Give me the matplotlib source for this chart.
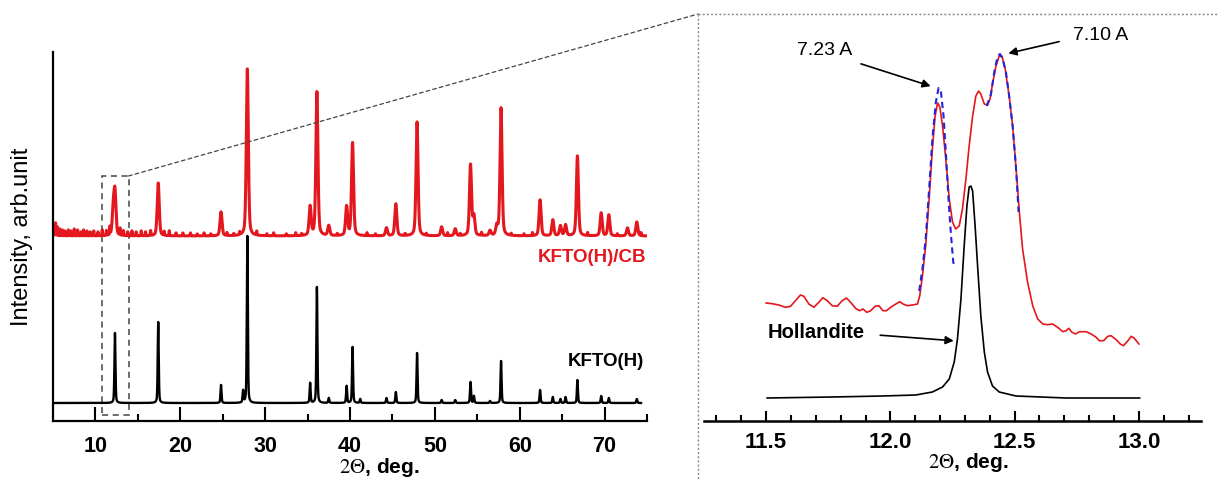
import numpy as np
import matplotlib
matplotlib.use("Agg")
import matplotlib.pyplot as plt
from matplotlib.patches import Rectangle, ConnectionPatch
from matplotlib.lines import Line2D

plt.rcParams["font.family"] = ["Liberation Sans", "DejaVu Sans"]
plt.rcParams["mathtext.fontset"] = "stix"

# ---- left panel: peak lists (2theta, height) ----
black_pos = [12.3, 17.4, 24.8, 27.4, 27.9, 35.3, 36.1, 37.5, 39.6, 40.3, 41.2,
             44.3, 45.4, 47.9, 50.8, 52.4, 54.2, 54.6, 56.5, 57.8, 62.4, 63.9,
             64.8, 65.4, 66.8, 69.6, 70.5, 73.8]
black_h = [70, 81, 18, 12, 167, 20, 116, 5, 17, 56, 4,
           5, 11, 50, 3, 3, 21, 7, 2, 42, 13, 6,
           4, 6, 23, 7, 5, 4]

red_pos = [12.1, 12.3, 17.4, 24.8, 27.9, 35.3, 36.1, 37.5, 39.6, 40.3, 44.3,
           45.4, 47.9, 50.8, 52.4, 54.2, 54.6, 56.5, 57.3, 57.8, 62.4, 63.9,
           64.8, 65.4, 66.8, 69.6, 70.5, 72.7, 73.8]
red_h = [25, 42, 53, 24, 167, 29, 144, 10, 29, 93, 8,
         32, 114, 9, 7, 71, 19, 5, 9, 128, 36, 16,
         10, 11, 80, 23, 21, 8, 14]

# small baseline spikes of the red pattern
red_small_pos = [5.1, 5.3, 5.5, 5.8, 6.1, 6.4, 6.8, 7.1, 7.5, 7.9, 8.3, 8.6, 9.0,
                 9.4, 9.8, 10.3, 10.8, 11.3, 11.7, 12.9, 13.3, 13.8, 14.3, 14.8,
                 15.4, 15.9, 16.5, 18.1, 18.7, 19.5, 20.3, 21.2, 22.0, 22.8, 23.6,
                 25.5, 26.3, 27.0, 29.0, 30.2, 31.0, 32.5, 33.6, 34.3, 38.5, 42.0,
                 43.0, 46.5, 49.0, 51.5, 53.0, 55.5, 59.0, 60.5, 61.5, 68.0, 71.5,
                 74.3]
red_small_h = [10, 13, 9, 7, 6, 5, 6, 5, 7, 6, 4, 6, 5,
               4, 5, 4, 6, 5, 8, 7, 5, 4, 5, 4,
               5, 4, 5, 4, 5, 3, 3, 3, 2, 3, 2,
               3, 2, 3, 4, 2, 3, 2, 3, 2, 2, 3,
               2, 2, 2, 3, 2, 3, 2, 2, 3, 3, 2,
               3]

# ---- right panel: traces read point by point ----
zoom_red_x = [11.500, 11.524, 11.551, 11.578, 11.598, 11.618, 11.638, 11.652, 11.672,
              11.692, 11.712, 11.728, 11.746, 11.766, 11.786, 11.806, 11.823, 11.840,
              11.860, 11.876, 11.890, 11.905, 11.921, 11.938, 11.954, 11.970, 11.984,
              12.001, 12.022, 12.038, 12.051, 12.069, 12.089, 12.109, 12.118, 12.129,
              12.142, 12.156, 12.169, 12.180, 12.190, 12.199, 12.210, 12.223, 12.237,
              12.250, 12.263, 12.277, 12.290, 12.304, 12.317, 12.331, 12.344, 12.355,
              12.364, 12.378, 12.391, 12.401, 12.411, 12.425, 12.438, 12.449, 12.462,
              12.478, 12.492, 12.505, 12.519, 12.532, 12.552, 12.573, 12.593, 12.613,
              12.633, 12.653, 12.673, 12.694, 12.707, 12.718, 12.731, 12.745, 12.761,
              12.788, 12.808, 12.828, 12.841, 12.858, 12.875, 12.888, 12.909, 12.925,
              12.938, 12.956, 12.969, 12.982, 13.000]
zoom_red_y = [118.0, 117.3, 116.0, 113.7, 114.7, 120.3, 126.0, 124.7, 117.0,
              113.7, 118.7, 123.3, 120.3, 115.3, 114.7, 120.3, 123.0, 118.7,
              112.7, 110.3, 112.0, 108.7, 110.3, 114.7, 115.3, 110.3, 110.3,
              113.7, 117.0, 119.3, 117.0, 115.3, 116.0, 117.0, 125, 145,
              175, 222, 272, 305, 318, 314, 295, 262, 222,
              199, 192, 195, 212, 242, 275, 305, 325, 330,
              327, 317, 316, 322, 337, 355, 365, 365, 352,
              325, 295, 255, 209, 172, 139, 115, 102.0, 97.0,
              96.3, 97.0, 93.7, 89.3, 90.3, 92.7, 88.7, 87.0, 89.3,
              89.3, 87.0, 83.7, 80.3, 80.3, 84.7, 85.3, 81.3, 77.0,
              75.3, 80.3, 84.7, 82.7, 77.0]

fit1_x = [12.116, 12.129, 12.142, 12.156, 12.169, 12.183, 12.194, 12.203, 12.214,
          12.223, 12.234, 12.243, 12.253, 12.259]
fit1_y = [130, 152, 182, 232, 282, 319, 333, 330, 305, 269, 222, 189, 159, 153]
fit2_x = [12.388, 12.405, 12.418, 12.431, 12.441, 12.452, 12.465, 12.478, 12.492,
          12.505, 12.516]
fit2_y = [315, 327, 349, 364, 367, 362, 349, 325, 295, 255, 209]

holl_x = [11.504, 11.766, 11.968, 12.102, 12.169, 12.210, 12.237, 12.257, 12.270,
          12.284, 12.297, 12.308, 12.317, 12.324, 12.331, 12.341, 12.351, 12.364,
          12.378, 12.391, 12.411, 12.438, 12.505, 12.707, 13.003]
holl_y = [23, 24, 25, 26, 29, 34, 42, 59, 82, 122, 175, 215, 234, 235, 230, 195,
          155, 105, 69, 49, 35, 29, 25, 23, 23]

RED = "#e3171d"


def pattern(x, pos, h, fwhm):
    y = np.zeros_like(x)
    for p, a in zip(pos, h):
        g = np.exp(-4 * np.log(2) * ((x - p) / fwhm) ** 2)
        lo = 1 / (1 + 4 * ((x - p) / fwhm) ** 2)
        y += a * (0.6 * g + 0.4 * lo)
    return y


W, H = 1218, 481
fig = plt.figure(figsize=(W / 100, H / 100), dpi=100)

# ---------------- left panel ----------------
ax1 = fig.add_axes([53 / W, 1 - 422 / H, (647 - 53) / W, (422 - 53) / H])
xr = np.linspace(5, 75, 14001)
xb = np.linspace(5, 74.3, 13861)
red = 185 + pattern(xr, red_pos, red_h, 0.28) + pattern(xr, red_small_pos, red_small_h, 0.07)
blk = 18 + pattern(xb, black_pos, black_h, 0.14)
ax1.plot(xr, red, color=RED, lw=2.2)
ax1.plot(xb, blk, color="black", lw=1.7)
ax1.set_xlim(5, 75)
ax1.set_ylim(0, 369)
for s in ["top", "right"]:
    ax1.spines[s].set_visible(False)
for s in ["left", "bottom"]:
    ax1.spines[s].set_linewidth(1.6)
ax1.set_yticks([])
ax1.set_xticks(np.arange(10, 71, 10))
ax1.set_xticks(np.arange(15, 76, 10), minor=True)
ax1.tick_params(axis="x", which="major", direction="in", length=10, width=1.5,
                pad=10, labelsize=15.5)
ax1.tick_params(axis="x", which="minor", direction="in", length=5, width=1.5)
for lab in ax1.get_xticklabels():
    lab.set_fontweight("bold")

ax1.text(74.9, 164, "KFTO(H)/CB", color=RED, fontsize=13.5, fontweight="bold",
         ha="right", va="center")
ax1.text(74.6, 60, "KFTO(H)", color="black", fontsize=13.5, fontweight="bold",
         ha="right", va="center")

ax1.add_patch(Rectangle((10.75, 6), 3.15, 239, fill=False, ls=(0, (4, 3)),
                        ec="#444444", lw=1.1, clip_on=False))
con = ConnectionPatch(xyA=(13.9, 245), coordsA=ax1.transData,
                      xyB=(698 / W, 1 - 15 / H), coordsB=fig.transFigure,
                      color="#444444", lw=0.9, ls=(0, (3, 2.5)))
fig.add_artist(con)

# ---------------- right panel ----------------
ax2 = fig.add_axes([704 / W, 1 - 422 / H, (1201 - 704) / W, (422 - 30) / H])
ax2.plot(zoom_red_x, zoom_red_y, color=RED, lw=1.2)
ax2.plot(fit1_x, fit1_y, color="#2424d8", lw=1.5, ls=(0, (3, 2)))
ax2.plot(fit2_x, fit2_y, color="#2424d8", lw=1.5, ls=(0, (3, 2)))
ax2.plot(holl_x, holl_y, color="black", lw=1.2)
ax2.set_xlim(11.25, 13.25)
ax2.set_ylim(0, 392)
for s in ["top", "right", "left"]:
    ax2.spines[s].set_visible(False)
ax2.spines["bottom"].set_linewidth(1.8)
ax2.set_yticks([])
ax2.set_xticks([11.5, 12.0, 12.5, 13.0])
ax2.set_xticklabels(["11.5", "12.0", "12.5", "13.0"])
ax2.set_xticks(np.arange(11.3, 13.25, 0.1), minor=True)
ax2.tick_params(axis="x", which="major", direction="in", length=7, width=1.5,
                pad=7, labelsize=16)
ax2.tick_params(axis="x", which="minor", direction="in", length=4, width=1.5)
for lab in ax2.get_xticklabels():
    lab.set_fontweight("bold")

arrow = dict(arrowstyle="-|>", color="black", lw=1.2, mutation_scale=12)
ax2.annotate("", xy=(12.173, 334), xytext=(11.871, 358), arrowprops=arrow,
             annotation_clip=False)
ax2.text(11.734, 372, "7.23 A", fontsize=14, ha="center", va="center")
ax2.annotate("", xy=(12.464, 367), xytext=(12.690, 380), arrowprops=arrow,
             annotation_clip=False)
ax2.text(12.847, 387, "7.10 A", fontsize=14, ha="center", va="center")
ax2.annotate("", xy=(12.266, 80), xytext=(11.948, 86), arrowprops=arrow,
             annotation_clip=False)
ax2.text(11.70, 89, "Hollandite", fontsize=14.5, fontweight="bold",
         ha="center", va="center")

# ---------------- figure-level labels and guide lines ----------------
fig.text(22 / W, 1 - 237 / H, "Intensity, arb.unit", rotation=90, fontsize=17,
         ha="center", va="center")
fig.text(379 / W, 1 - 468 / H, r"$\mathrm{2\Theta}$, deg.", fontsize=15,
         fontweight="bold", ha="center", va="center")
fig.text(968 / W, 1 - 463 / H, r"$\mathrm{2\Theta}$, deg.", fontsize=15,
         fontweight="bold", ha="center", va="center")

fig.add_artist(Line2D([698 / W, 1], [1 - 15 / H, 1 - 15 / H], color="#888888",
                      lw=1.0, ls=(0, (1.5, 1.5)), transform=fig.transFigure))
fig.add_artist(Line2D([698 / W, 698 / W], [1 - 15 / H, 0], color="#888888",
                      lw=1.0, ls=(0, (1.5, 1.5)), transform=fig.transFigure))

fig.savefig("out.png", dpi=100)
